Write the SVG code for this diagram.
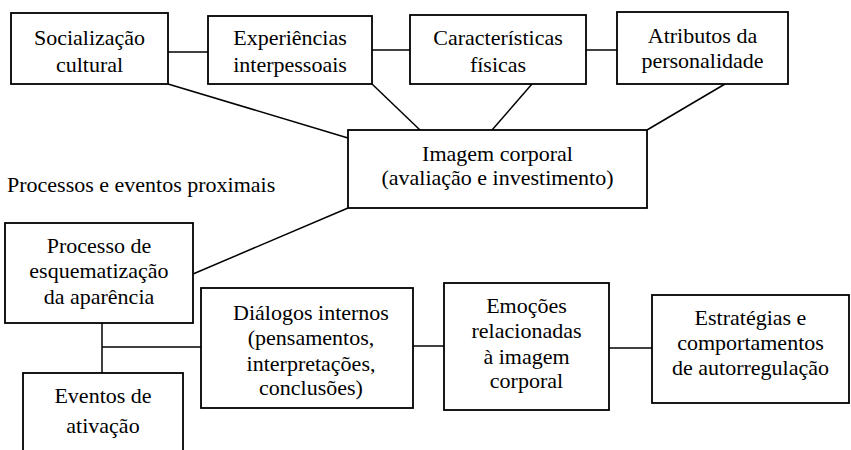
<svg xmlns="http://www.w3.org/2000/svg" width="851" height="450" viewBox="0 0 851 450">
<rect width="851" height="450" fill="#fff"/>
<g id="connectors" stroke="#000" stroke-width="1.5" fill="none">
<line x1="168" y1="52" x2="208" y2="52"/>
<line x1="372" y1="50" x2="410" y2="50"/>
<line x1="586" y1="50" x2="617" y2="50"/>
<line x1="168" y1="84" x2="348" y2="138"/>
<line x1="372" y1="84" x2="420" y2="130"/>
<line x1="532" y1="84" x2="492" y2="130"/>
<line x1="725" y1="84" x2="647" y2="130"/>
<line x1="348" y1="208" x2="193" y2="274"/>
<line x1="102" y1="323" x2="102" y2="373"/>
<line x1="102" y1="347" x2="201" y2="347"/>
<line x1="413" y1="346" x2="444" y2="346"/>
<line x1="609" y1="348" x2="652" y2="348"/>
</g>
<g id="socializacao">
<rect x="11" y="13" width="157" height="71" fill="#fff" stroke="#000" stroke-width="1.8"/>
<text text-anchor="middle" font-family="Liberation Serif" font-size="22" x="89.5" y="45">Socialização</text>
<text text-anchor="middle" font-family="Liberation Serif" font-size="22" x="89.5" y="72">cultural</text>
</g>
<g id="experiencias">
<rect x="208" y="16" width="164" height="68" fill="#fff" stroke="#000" stroke-width="1.8"/>
<text text-anchor="middle" font-family="Liberation Serif" font-size="22" x="290" y="45">Experiências</text>
<text text-anchor="middle" font-family="Liberation Serif" font-size="22" x="290" y="72">interpessoais</text>
</g>
<g id="caracteristicas">
<rect x="410" y="15" width="176" height="69" fill="#fff" stroke="#000" stroke-width="1.8"/>
<text text-anchor="middle" font-family="Liberation Serif" font-size="22" x="498" y="45">Características</text>
<text text-anchor="middle" font-family="Liberation Serif" font-size="22" x="498" y="72">físicas</text>
</g>
<g id="atributos">
<rect x="617" y="12" width="171" height="72" fill="#fff" stroke="#000" stroke-width="1.8"/>
<text text-anchor="middle" font-family="Liberation Serif" font-size="22" x="702.5" y="43">Atributos da</text>
<text text-anchor="middle" font-family="Liberation Serif" font-size="22" x="702.5" y="68">personalidade</text>
</g>
<g id="imagem">
<rect x="348" y="130" width="299" height="78" fill="#fff" stroke="#000" stroke-width="1.8"/>
<text text-anchor="middle" font-family="Liberation Serif" font-size="22" x="497.5" y="161">Imagem corporal</text>
<text text-anchor="middle" font-family="Liberation Serif" font-size="22" x="497.5" y="185">(avaliação e investimento)</text>
</g>
<g id="label-proximais">
<text font-family="Liberation Serif" font-size="22" x="7" y="192">Processos e eventos proximais</text>
</g>
<g id="processo">
<rect x="5" y="223" width="188" height="100" fill="#fff" stroke="#000" stroke-width="1.8"/>
<text text-anchor="middle" font-family="Liberation Serif" font-size="22" x="99" y="253">Processo de</text>
<text text-anchor="middle" font-family="Liberation Serif" font-size="22" x="99" y="278">esquematização</text>
<text text-anchor="middle" font-family="Liberation Serif" font-size="22" x="99" y="304">da aparência</text>
</g>
<g id="eventos">
<rect x="23" y="373" width="160" height="90" fill="#fff" stroke="#000" stroke-width="1.8"/>
<text text-anchor="middle" font-family="Liberation Serif" font-size="22" x="103" y="403">Eventos de</text>
<text text-anchor="middle" font-family="Liberation Serif" font-size="22" x="103" y="433">ativação</text>
</g>
<g id="dialogos">
<rect x="201" y="288" width="212" height="120" fill="#fff" stroke="#000" stroke-width="1.8"/>
<text text-anchor="middle" font-family="Liberation Serif" font-size="22" x="311" y="320">Diálogos internos</text>
<text text-anchor="middle" font-family="Liberation Serif" font-size="22" x="311" y="345">(pensamentos,</text>
<text text-anchor="middle" font-family="Liberation Serif" font-size="22" x="311" y="371">interpretações,</text>
<text text-anchor="middle" font-family="Liberation Serif" font-size="22" x="311" y="395">conclusões)</text>
</g>
<g id="emocoes">
<rect x="444" y="283" width="165" height="127" fill="#fff" stroke="#000" stroke-width="1.8"/>
<text text-anchor="middle" font-family="Liberation Serif" font-size="22" x="526.5" y="313">Emoções</text>
<text text-anchor="middle" font-family="Liberation Serif" font-size="22" x="526.5" y="338">relacionadas</text>
<text text-anchor="middle" font-family="Liberation Serif" font-size="22" x="526.5" y="364">à imagem</text>
<text text-anchor="middle" font-family="Liberation Serif" font-size="22" x="526.5" y="388">corporal</text>
</g>
<g id="estrategias">
<rect x="652" y="295" width="197" height="108" fill="#fff" stroke="#000" stroke-width="1.8"/>
<text text-anchor="middle" font-family="Liberation Serif" font-size="22" x="750.5" y="325">Estratégias e</text>
<text text-anchor="middle" font-family="Liberation Serif" font-size="22" x="750.5" y="350">comportamentos</text>
<text text-anchor="middle" font-family="Liberation Serif" font-size="22" x="750.5" y="375">de autorregulação</text>
</g>
</svg>
